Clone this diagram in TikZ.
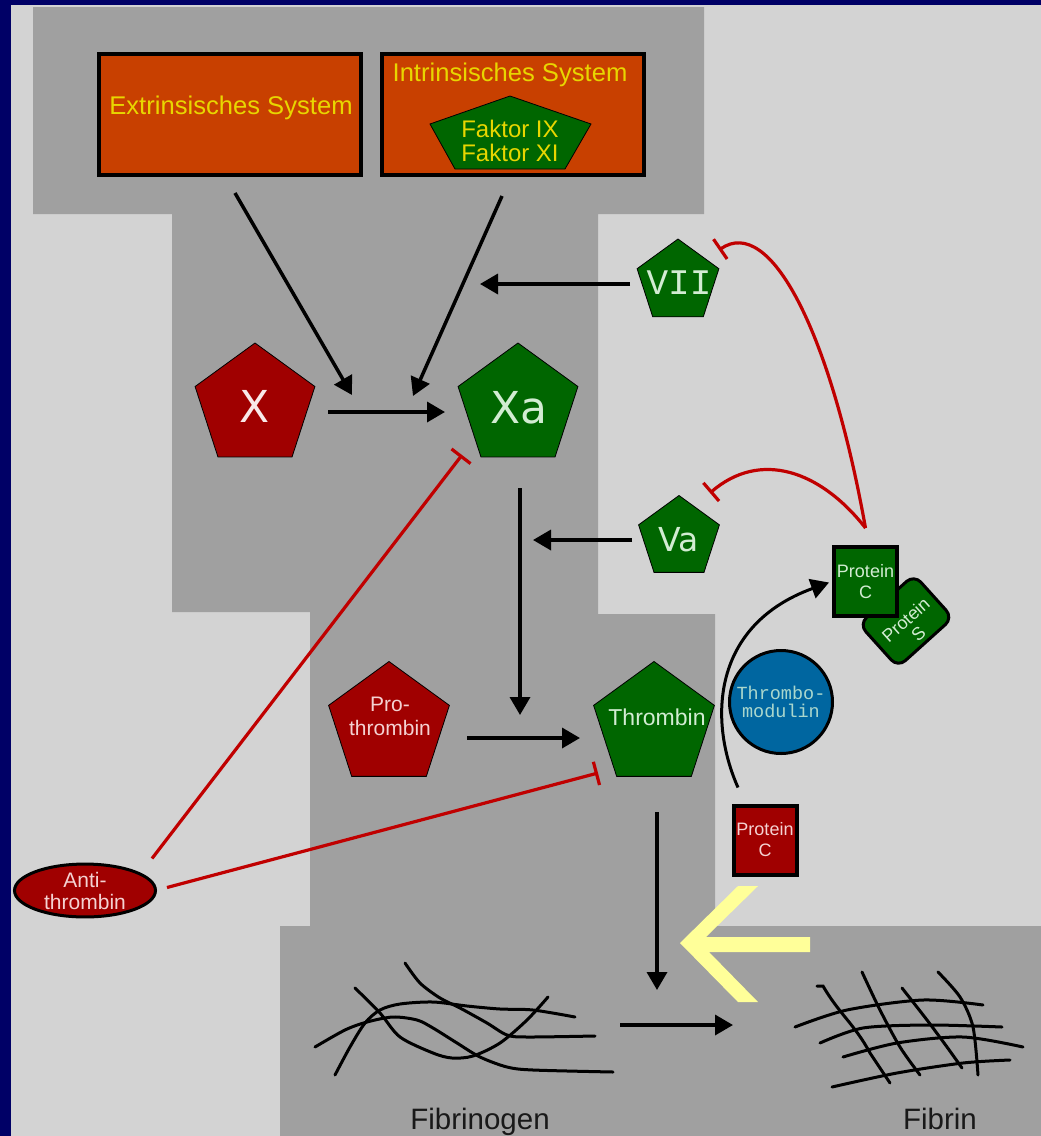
\documentclass[tikz,border=0pt]{standalone}
\usepackage{fontspec}
\setmainfont{Liberation Sans}
\newfontfamily\djv{DejaVu Sans}
\newfontfamily\lmono{Liberation Mono}
\usetikzlibrary{shapes.geometric,arrows.meta,calc}

\definecolor{navy}{RGB}{0,0,102}
\definecolor{panel}{RGB}{211,211,211}
\definecolor{column}{RGB}{160,160,160}
\definecolor{sysorange}{RGB}{200,64,0}
\definecolor{sysyellow}{RGB}{232,214,0}
\definecolor{factred}{RGB}{160,0,0}
\definecolor{factgreen}{RGB}{0,102,0}
\definecolor{inhred}{RGB}{192,0,0}
\definecolor{tmblue}{RGB}{0,102,160}
\definecolor{hint}{RGB}{255,255,153}
\definecolor{pinktext}{RGB}{244,210,210}
\definecolor{greentext}{RGB}{210,236,210}
\definecolor{tealtext}{RGB}{170,215,205}

\begin{document}
\begin{tikzpicture}[x=1pt,y=-1pt,
  pent/.style={regular polygon, regular polygon sides=5, draw=black, line width=0.8pt, inner sep=0pt},
  redpent/.style={pent, fill=factred},
  greenpent/.style={pent, fill=factgreen},
  sysbox/.style={rectangle, draw=black, line width=4pt, fill=sysorange,
                 minimum width=262pt, minimum height=121pt, inner sep=0pt},
  systext/.style={text=sysyellow, font=\fontsize{25.6}{28}\selectfont, inner sep=0pt},
  lbl/.style={inner sep=0pt, align=center},
  arr/.style={draw=black, line width=3.5pt, -{Triangle[length=18pt,width=20pt]}},
  inh/.style={draw=inhred, line width=3.2pt, -{Bar[width=24pt]}},
  strand/.style={draw=black, line width=3pt, line cap=round},
  protbox/.style={rectangle, draw=black, line width=4pt, inner sep=0pt,
                  minimum width=63pt, minimum height=69pt, align=center,
                  font=\fontsize{18}{21}\selectfont}
]
\useasboundingbox (0,0) rectangle (1041,1136);

% frame, panel and the grey column behind the cascade
\fill[navy] (0,0) rectangle (1041,1136);
\fill[panel] (11,5) rectangle (1041,1136);
\fill[column] (33,7) -- (704,7) -- (704,214) -- (598,214) -- (598,614) -- (715,614)
  -- (715,926) -- (1041,926) -- (1041,1136) -- (280,1136) -- (280,926) -- (310,926)
  -- (310,612) -- (172,612) -- (172,214) -- (33,214) -- cycle;

% activating systems
\node[sysbox] (ext) at (230,114.5) {};
\node[systext] (exttxt) at (231,108) {Extrinsisches System};
\node[sysbox] (int) at (512.5,114.5) {};
\node[systext] (inttxt) at (510,75) {Intrinsisches System};
\filldraw[fill=factgreen, draw=black, line width=0.8pt]
  (510,96) -- (591,124) -- (565,169) -- (455,169) -- (430,124) -- cycle;
\node[lbl, text=sysyellow, font=\fontsize{24}{24}\selectfont] (faktor) at (510,141) {Faktor IX\\Faktor XI};

% factors
\node[redpent, minimum size=126pt] (x) at (255,406) {};
\node[lbl, text=pinktext!50!white, font=\djv\fontsize{44}{44}\selectfont] (xtxt) at (255,406) {X};
\node[greenpent, minimum size=126pt] (xa) at (518,406) {};
\node[lbl, text=greentext, font=\djv\fontsize{44}{44}\selectfont] (xatxt) at (519,408) {Xa};
\node[greenpent, minimum size=86pt] (vii) at (678,282) {};
\node[lbl, text=greentext, font=\lmono\fontsize{36}{36}\selectfont] (viitxt) at (679,283) {VII};
\node[greenpent, minimum size=85pt] (va) at (679,538) {};
\node[lbl, text=greentext, font=\djv\fontsize{33}{33}\selectfont] (vatxt) at (679,540) {Va};
\node[redpent, minimum size=127pt] (pro) at (389,725) {};
\node[lbl, text=pinktext, font=\fontsize{21}{24}\selectfont] (protxt) at (390,716) {Pro-\\thrombin};
\node[greenpent, minimum size=127pt] (thr) at (654,725) {};
\node[lbl, text=greentext, font=\fontsize{23}{23}\selectfont] (thrtxt) at (657,717) {Thrombin};

% anticoagulant side: protein S sits behind activated protein C
\node[rectangle, rounded corners=10pt, draw=black, line width=3pt, fill=factgreen,
      minimum width=74pt, minimum height=58pt, rotate=42, inner sep=0pt] (ps) at (906,621) {};
\node[lbl, rotate=42, text=greentext, font=\fontsize{18}{19}\selectfont] (pstxt) at (912,627) {Protein\\S};
\node[protbox, fill=factgreen, text=greentext] (pcg) at (865.5,581.5) {Protein\\C};
\node[protbox, fill=factred, text=pinktext] (pcr) at (765,840) {Protein\\C};
\node[circle, draw=black, line width=3pt, fill=tmblue, minimum size=103pt, inner sep=0pt,
      align=center, text=tealtext, font=\lmono\fontsize{18.5}{18}\selectfont] (tm) at (781,702) {Thrombo-\\modulin};
\node[ellipse, draw=black, line width=3pt, fill=factred, minimum width=141pt, minimum height=52pt,
      inner sep=0pt, align=center, text=pinktext, font=\fontsize{21}{22}\selectfont] (at) at (85,890.5) {Anti-\\thrombin};

% free ends of the connectors
\coordinate (xjoin1) at (352,395);
\coordinate (xjoin2) at (413,396);
\coordinate (viiend) at (480,284);
\coordinate (xadown) at (520,715);
\coordinate (vaend) at (533,540);
\coordinate (cleave) at (657,990);
\coordinate (fgnout) at (620,1025);
\coordinate (fibin) at (733,1025);
\coordinate (xastop) at (462,455);
\coordinate (thrstop) at (598,773);
\coordinate (viistop) at (719,250);
\coordinate (vastop) at (710,493);

% activation arrows
\draw[arr] ($(ext.south)+(5,16)$) -- (xjoin1);
\draw[arr] ($(int.south)+(-10.5,19)$) -- (xjoin2);
\draw[arr] ($(vii.center)+(-48,2)$) -- (viiend);
\draw[arr] ($(x.center)+(73,6)$) -- ($(xa.center)+(-73,6)$);
\draw[arr] ($(xa.center)+(2,82)$) -- (xadown);
\draw[arr] ($(va.center)+(-47,2)$) -- (vaend);
\draw[arr] ($(pro.center)+(78,13)$) -- ($(thr.center)+(-74,13)$);
\draw[arr] ($(thr.center)+(3,87)$) -- (cleave);
\draw[arr] (fgnout) -- (fibin);
\draw[arr, line width=3pt] ($(pcr.north)+(-27,-16)$) .. controls (708,720) and (712,625) .. ($(pcg.west)+(-3,1)$);

% inhibitions
\draw[inh] ($(pcg.north)+(0,-17)$) .. controls (830,330) and (770,215) .. (viistop);
\draw[inh] ($(pcg.north)+(0,-17)$) .. controls (820,470) and (760,450) .. (vastop);
\draw[inh] ($(at.center)+(67,-32)$) -- (xastop);
\draw[inh] ($(at.center)+(82,-3)$) -- (thrstop);

% highlight arrow
\fill[hint] (680,943) -- (738,886) -- (758,886) -- (706,937) -- (810,937) -- (810,952)
  -- (709,952) -- (758,1002) -- (738,1002) -- cycle;

% fibrinogen strands
\draw[strand] plot[smooth] coordinates {(405,963) (420,983) (440,998) (460,1008) (487,1023) (507,1035) (527,1037) (595,1036)};
\draw[strand] plot[smooth] coordinates {(355,988) (380,1013) (400,1037) (433,1053) (452,1058) (473,1056) (500,1043) (527,1020) (548,997)};
\draw[strand] plot[smooth] coordinates {(315,1047) (345,1030) (367,1022) (393,1017) (417,1020) (433,1028) (457,1043) (480,1057) (507,1067) (533,1070) (613,1072)};
\draw[strand] plot[smooth] coordinates {(335,1075) (350,1047) (365,1023) (380,1010) (400,1004) (433,1002) (467,1006) (500,1009) (533,1010) (575,1017)};

% fibrin mesh
\draw[strand] plot[smooth] coordinates {(795,1027) (847,1010) (923,1000) (983,1005)};
\draw[strand] plot[smooth] coordinates {(820,1043) (863,1028) (930,1025) (1002,1027)};
\draw[strand] plot[smooth] coordinates {(843,1057) (897,1043) (963,1037) (1023,1047)};
\draw[strand] plot[smooth] coordinates {(832,1087) (897,1073) (963,1063) (1010,1060)};
\draw[strand] (817,986) -- (823,986) to[out=-60,in=118] (870,1053) -- (890,1083);
\draw[strand] plot[smooth] coordinates {(862,972) (880,1010) (900,1047) (920,1075)};
\draw[strand] plot[smooth] coordinates {(902,988) (927,1020) (947,1047) (962,1068)};
\draw[strand] plot[smooth] coordinates {(938,972) (960,997) (973,1027) (978,1075)};

\node[lbl, anchor=base, font=\fontsize{29.5}{29.5}\selectfont, text=black!90] (fgn) at (480,1129) {Fibrinogen};
\node[lbl, anchor=base, font=\fontsize{29.5}{29.5}\selectfont, text=black!90] (fib) at (940,1129) {Fibrin};
\end{tikzpicture}
\end{document}
